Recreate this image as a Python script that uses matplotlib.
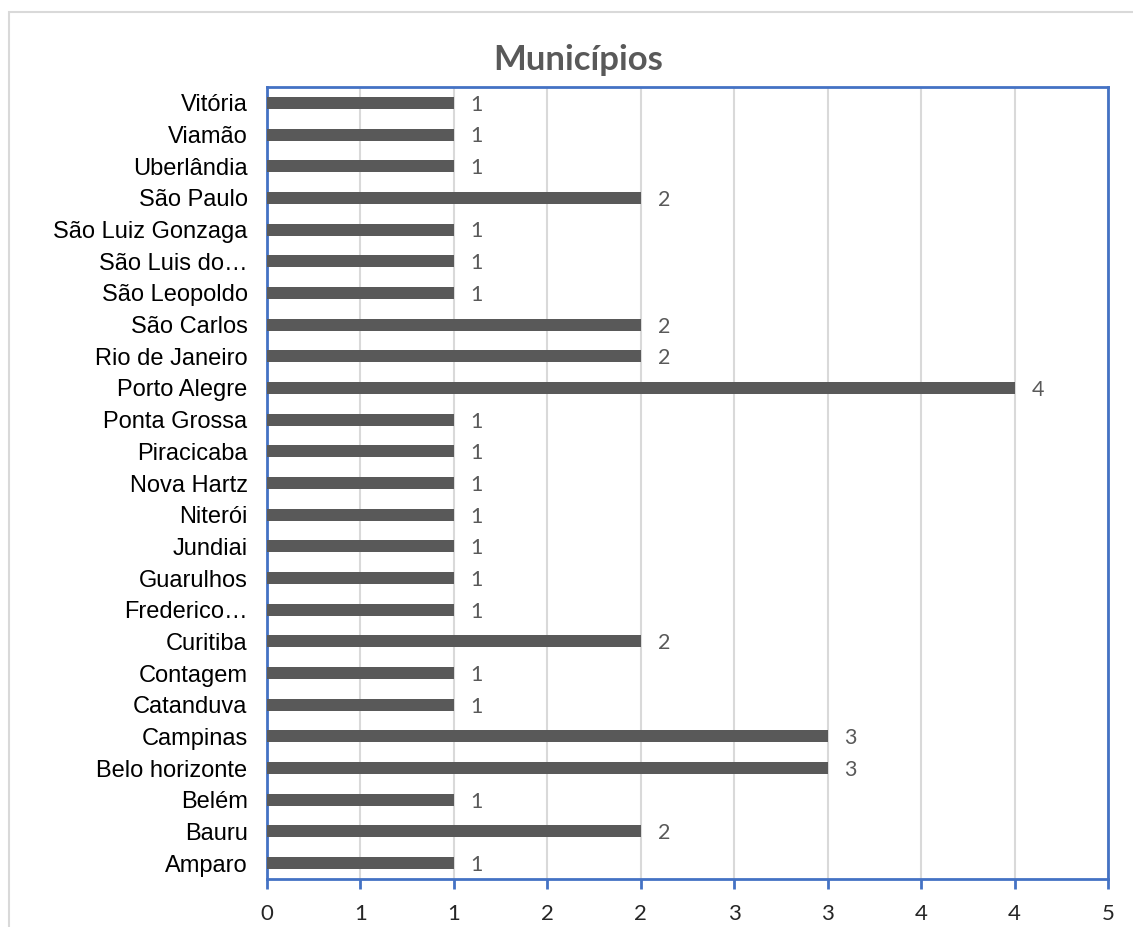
import matplotlib
matplotlib.use("Agg")
import matplotlib.pyplot as plt
from matplotlib.patches import Rectangle
from matplotlib.ticker import FixedLocator, FuncFormatter
import math

municipios = [
    "Amparo", "Bauru", "Belém", "Belo horizonte", "Campinas", "Catanduva",
    "Contagem", "Curitiba", "Frederico…", "Guarulhos", "Jundiai", "Niterói",
    "Nova Hartz", "Piracicaba", "Ponta Grossa", "Porto Alegre",
    "Rio de Janeiro", "São Carlos", "São Leopoldo", "São Luis do…",
    "São Luiz Gonzaga", "São Paulo", "Uberlândia", "Viamão", "Vitória",
]
contagem = [1, 2, 1, 3, 3, 1, 1, 2, 1, 1, 1, 1, 1, 1, 1, 4, 2, 2, 1, 1, 1, 2, 1, 1, 1]
x_ticks = [0, 0.5, 1, 1.5, 2, 2.5, 3, 3.5, 4, 4.5]

W, H = 1133, 927
fig = plt.figure(figsize=(W / 100, H / 100), dpi=100)
fig.patch.set_facecolor("white")

# outer chart frame
fig.add_artist(Rectangle((9 / W, -0.05), 1.2, 1 - 12 / H + 0.05,
                         transform=fig.transFigure, fill=False,
                         edgecolor="#D9D9D9", linewidth=1.5))

left, right, top, bottom = 267, 1108, 87, 879
ax = fig.add_axes([left / W, 1 - bottom / H, (right - left) / W, (bottom - top) / H])

y = list(range(len(municipios)))
ax.barh(y, contagem, height=0.38, color="#595959", zorder=3)

ax.set_ylim(-0.5, len(municipios) - 0.5)
ax.set_xlim(0, 4.5)

ax.set_yticks(y)
ax.set_yticklabels(municipios, fontsize=17, family=["Liberation Sans", "DejaVu Sans"],
                   color="#000000")
ax.tick_params(axis="y", length=0, pad=14)

def half_up(v, pos):
    return str(int(math.floor(v + 0.5)))

ax.xaxis.set_major_locator(FixedLocator(x_ticks))
ax.xaxis.set_major_formatter(FuncFormatter(half_up))
ax.tick_params(axis="x", direction="out", length=7, width=2, color="#4472C4",
               labelsize=16, labelcolor="#262626", pad=11)
for lab in ax.get_xticklabels():
    lab.set_family(["Lato", "DejaVu Sans"])

ax.grid(axis="x", color="#D9D9D9", linewidth=1.5, zorder=0)
ax.set_axisbelow(True)

for s in ax.spines.values():
    s.set_color("#4472C4")
    s.set_linewidth(2)

for yi, v in zip(y, contagem):
    ax.text(v + 0.09, yi - 0.06, str(v), va="center", ha="left", fontsize=15.5,
            color="#595959", family=["Lato", "DejaVu Sans"])

fig.text(578 / W, 1 - 60 / H, "Municípios", ha="center", va="center",
         fontsize=25, fontweight="bold", color="#595959",
         family=["Lato", "DejaVu Sans"])

fig.savefig("out.png", dpi=100, facecolor="white")
